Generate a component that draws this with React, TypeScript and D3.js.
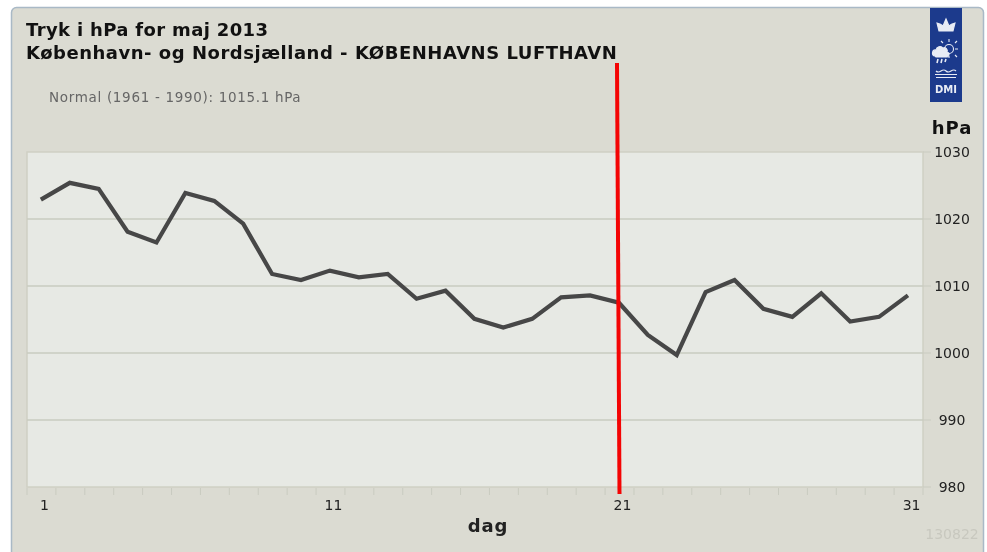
import React from "react";
import * as d3 from "d3";

const days = d3.range(1, 32);
const pressure = [1022.9,1025.4,1024.5,1018.1,1016.5,1023.9,1022.7,1019.3,1011.8,1010.9,1012.3,1011.3,1011.8,1008.1,1009.3,1005.1,1003.8,1005.1,1008.3,1008.6,1007.5,1002.7,999.7,1009.1,1010.9,1006.6,1005.4,1008.9,1004.7,1005.4,1008.6];
const yTicks = [980,990,1000,1010,1020,1030];
const xLabels = [1,11,21,31];
const titleLines = ["Tryk i hPa for maj 2013","København- og Nordsjælland - KØBENHAVNS LUFTHAVN"];
const normalText = "Normal (1961 - 1990): 1015.1 hPa";

const font = "'DejaVu Sans', sans-serif";

export default function App() {
  const x = d3.scaleLinear().domain([0.5, 31.5]).range([27, 923]);
  const y = d3.scaleLinear().domain([980, 1030]).range([487, 152]);
  const line = d3.line<number>().x((_, i) => x(days[i]) - 0.6).y(d => y(d));
  return (
    <svg width={987} height={552} style={{ position: "absolute", left: 0, top: 0, background: "#fff", filter: "blur(0.35px)" }}>
      <rect x={11.5} y={7.5} width={972} height={550} rx={5} fill="#dbdbd2" stroke="#a9b9c6" strokeWidth={1.5} />
      <text fontFamily={font} fontWeight="bold" fontSize={18} letterSpacing={0.35} fill="#111" x={26} y={36}>{titleLines[0]}</text>
      <text fontFamily={font} fontWeight="bold" fontSize={18} letterSpacing={0.52} fill="#111" x={26} y={59}>{titleLines[1]}</text>
      <text fontFamily={font} fontSize={13.5} letterSpacing={0.68} fill="#666" x={49} y={102}>{normalText}</text>

      <rect x={930} y={8} width={32} height={94} fill="#1c3a8c" />
      <g fill="none" stroke="#e8ecf5" strokeWidth={1.1}>
        <path d="M939 31 L937 23 Q941 24 943 26 L946 19 L949 26 Q951 24 955 23 L953 31 Z" fill="#e8ecf5" />
        <circle cx={949} cy={49} r={4.5} />
        <path d="M949 39 v3 M949 56 v2 M941 49 h-1 M955 49 h3 M955 43 l2 -2 M955 55 l2 2 M943 43 l-2 -2" />
        <path d="M935 56 a3 3 0 0 1 1 -6 a4 4 0 0 1 7 -2 a3 3 0 0 1 4 4 a2.5 2.5 0 0 1 -1 5 h-10 z" fill="#e8ecf5" />
        <path d="M938 59 l-1 4 M942 59 l-1 4 M946 59 l-1 3" strokeWidth={1.6} />
        <path d="M936 71 q2 2 5 0 t5 0 t5 0 t5 0 M935 74.5 h22 M936 77.5 h20" />
      </g>
      <text x={946} y={93} textAnchor="middle" fontFamily={font} fontWeight="bold" fontSize={10} fill="#e8ecf5">DMI</text>

      <rect x={27} y={152} width={896} height={335} fill="#e7e9e4" stroke="#cfd0c4" strokeWidth={1.5} />
      {yTicks.slice(1, -1).map(t => (
        <line key={t} x1={27} x2={923} y1={y(t)} y2={y(t)} stroke="#c9cbc0" strokeWidth={1.5} />
      ))}
      {yTicks.map(t => (
        <g key={t}>
          <line x1={923} x2={931} y1={y(t)} y2={y(t)} stroke="#c9cbc0" strokeWidth={1} />
          <text x={952} y={y(t) + 5} textAnchor="middle" fontFamily={font} fontSize={14} fill="#222">{t}</text>
        </g>
      ))}
      <text x={952} y={134} textAnchor="middle" fontFamily={font} fontWeight="bold" fontSize={18} letterSpacing={1} fill="#111">hPa</text>

      {d3.range(0, 32).map(i => (
        <line key={i} x1={x(i + 0.5)} x2={x(i + 0.5)} y1={488} y2={495} stroke="#c9cbc0" strokeWidth={1} />
      ))}
      {xLabels.map(d => (
        <text key={d} x={x(d) + 3} y={510} textAnchor="middle" fontFamily={font} fontSize={14} fill="#222">{d}</text>
      ))}
      <text x={488} y={532} textAnchor="middle" fontFamily={font} fontWeight="bold" fontSize={18} letterSpacing={0.8} fill="#222">dag</text>
      <text x={952} y={539} textAnchor="middle" fontFamily={font} fontSize={14} fill="#c8c8bf">130822</text>

      <path d={line(pressure) ?? ""} fill="none" stroke="#474747" strokeWidth={4.2} strokeLinejoin="miter" />
      <line x1={617} y1={63} x2={619.5} y2={494} stroke="#f40404" strokeWidth={4} />
    </svg>
  );
}
